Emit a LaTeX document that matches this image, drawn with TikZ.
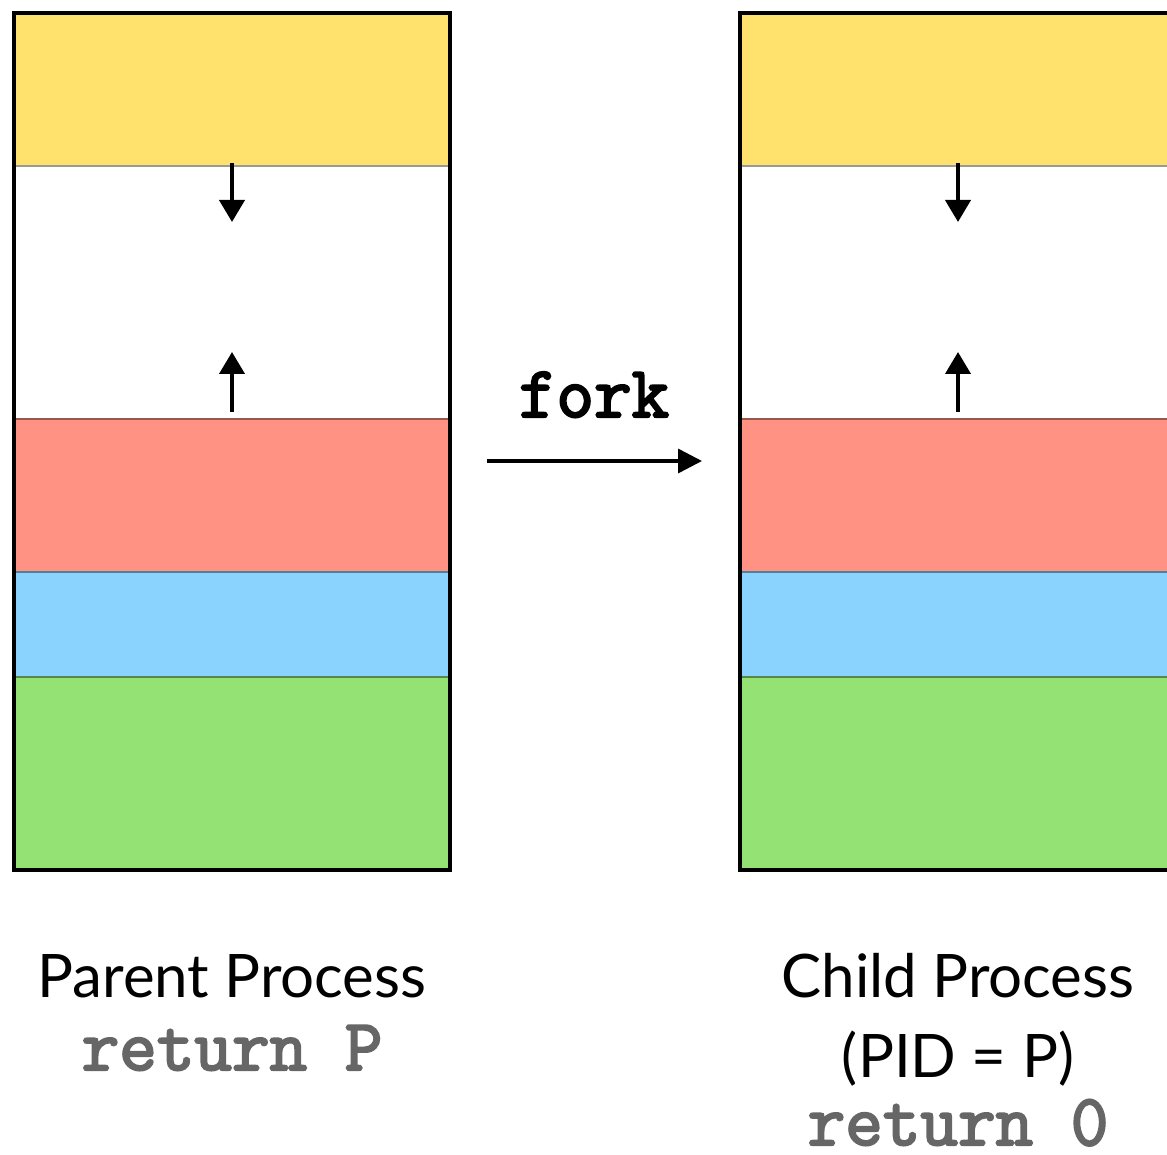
\documentclass[tikz,border=0pt]{standalone}
\usepackage{fontspec}
\setmainfont{Lato}
\setmonofont[AutoFakeBold=3]{Latin Modern Mono}
\usetikzlibrary{arrows.meta, positioning, fit}

\definecolor{segyellow}{HTML}{FFE26E}
\definecolor{segred}{HTML}{FF9282}
\definecolor{segblue}{HTML}{8AD3FE}
\definecolor{seggreen}{HTML}{94E274}
\definecolor{codegray}{HTML}{666666}

\begin{document}
\begin{tikzpicture}[
  x=1pt, y=-1pt,
  seg/.style={rectangle, draw=#1!60!black, line width=1.2pt, fill=#1,
    minimum width=436pt, inner sep=0pt, outer sep=0pt, anchor=north},
  frame/.style={rectangle, draw=black, line width=4pt, inner sep=0pt},
  growarrow/.style={-{Triangle[length=22pt, width=25pt]}, line width=4pt},
  arrow/.style={-{Triangle[length=24pt, width=24pt]}, line width=3.5pt},
  lbl/.style={font=\fontsize{60}{70}\selectfont, anchor=base},
  codetext/.style={font=\fontsize{73}{70}\selectfont\ttfamily\bfseries, anchor=base, inner sep=0pt}
]
\useasboundingbox (0,0) rectangle (1167,1155);
\clip (0,0) rectangle (1167,1155);

% parent process
\node (pyel) [seg=segyellow, minimum height=153pt] at (232,13) {};
\node (pfree) [seg=white, minimum height=253pt, below=0pt of pyel] {};
\node (pred) [seg=segred, minimum height=153pt, below=0pt of pfree] {};
\node (pblue) [seg=segblue, minimum height=105pt, below=0pt of pred] {};
\node (pgreen) [seg=seggreen, minimum height=193pt, below=0pt of pblue] {};
\node (parent) [frame, fit=(pyel)(pgreen)] {};

\coordinate (pdown) at (232,222);
\coordinate (pup) at (232,352);
\draw [growarrow] ([yshift=3pt]pyel.south) -- (pdown);
\draw [growarrow] ([yshift=7pt]pred.north) -- (pup);

% child process
\node (cyel) [seg=segyellow, minimum height=153pt] at (958,13) {};
\node (cfree) [seg=white, minimum height=253pt, below=0pt of cyel] {};
\node (cred) [seg=segred, minimum height=153pt, below=0pt of cfree] {};
\node (cblue) [seg=segblue, minimum height=105pt, below=0pt of cred] {};
\node (cgreen) [seg=seggreen, minimum height=193pt, below=0pt of cblue] {};
\node (child) [frame, fit=(cyel)(cgreen)] {};

\coordinate (cdown) at (958,222);
\coordinate (cup) at (958,352);
\draw [growarrow] ([yshift=3pt]cyel.south) -- (cdown);
\draw [growarrow] ([yshift=7pt]cred.north) -- (cup);

% fork
\coordinate (forkstart) at (487,461);
\coordinate (forkend) at (702,461);
\draw [arrow] (forkstart) -- (forkend);
\node (fork) [codetext] at (594,417) {fork};

% labels
\node (plabel) [lbl] at (232,997) {Parent Process};
\node (pret) [codetext, text=codegray] at (232,1070) {return P};
\node (clabel) [lbl] at (958,997) {Child Process};
\node (cpid) [lbl] at (958,1077) {(PID = P)};
\node (cret) [codetext, text=codegray] at (958,1145) {return 0};

\end{tikzpicture}
\end{document}
